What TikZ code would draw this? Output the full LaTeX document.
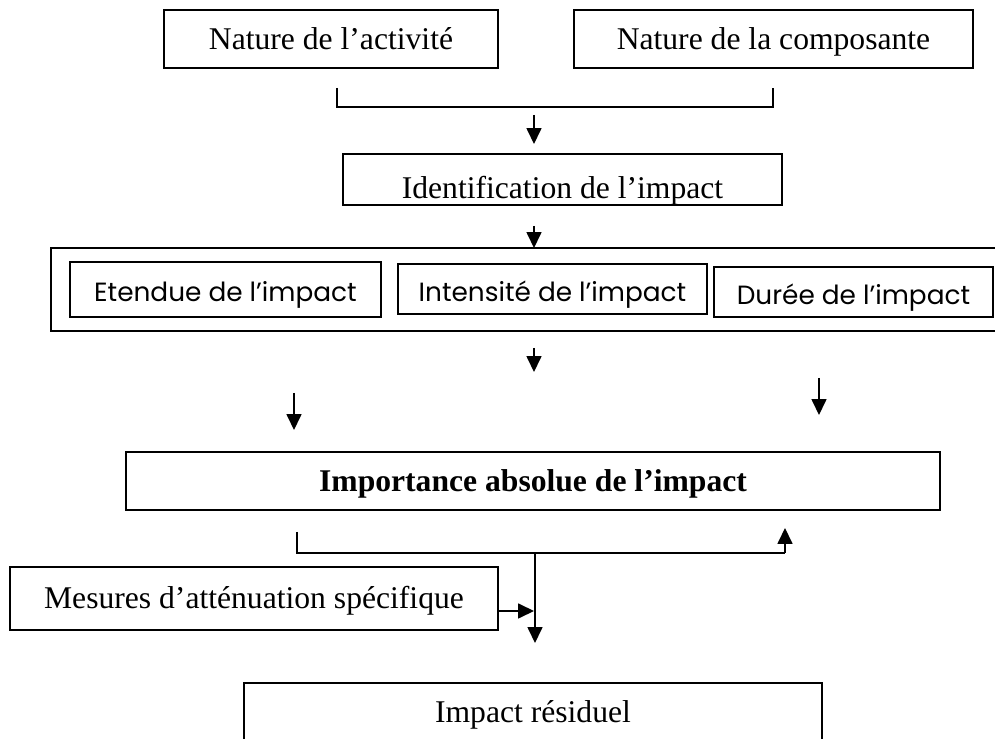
\documentclass[tikz,border=0pt]{standalone}
\usepackage{fontspec}
\setmainfont{Liberation Serif}
\newfontfamily\gothique{Poppins}
\usepackage{pgf,tikz}
\usetikzlibrary{arrows.meta, positioning}
\tikzstyle{boite} = [draw, line width=0.9pt, rectangle, inner sep=0pt, text height=13pt, text depth=1.5pt, font=\fontsize{18}{21}\selectfont]
\tikzstyle{petiteboite} = [boite, text height=15pt, text depth=1pt, font=\gothique\fontsize{15}{18}\selectfont]
\tikzstyle{fleche} = [-{Triangle[width=8.5pt,length=9pt]}, line width=0.75pt]
\tikzstyle{trait} = [line width=0.75pt]

\begin{document}
\begin{tikzpicture}[x=0.02cm, y=-0.02cm]
	\useasboundingbox (0,0) rectangle (995,739);
	\clip (0,0) rectangle (995,739);
	% premiere ligne
	\node [boite, minimum width=6.68cm, minimum height=1.16cm] (activite) at (331,39) {Nature de l’activité};
	\node [boite, minimum width=7.98cm, minimum height=1.16cm] (composante) at (773.5,39) {Nature de la composante};
	\coordinate (acc1) at (337,88);
	\coordinate (acc2) at (773,88);
	\draw [trait] (acc1) -- ++(0,19) -| (acc2);
	\coordinate (f1) at (534,115);
	\draw [fleche] (f1) -- ++(0,29);
	% identification
	\node [boite, minimum width=8.78cm, minimum height=1.02cm] (identif) at (562.5,179.5) {};
	\begin{scope}
		\clip (identif.north west) rectangle (identif.south east);
		\node [anchor=base, font=\fontsize{18}{21}\selectfont] (identif-texte) at (562.5,199) {Identification de l’impact};
	\end{scope}
	\coordinate (f2) at (534,226);
	\draw [fleche] (f2) -- ++(0,22);
	% criteres
	\node [boite, minimum width=19.18cm, minimum height=1.66cm] (cadre) at (530.5,289.5) {};
	\node [petiteboite, minimum width=6.22cm, minimum height=1.10cm] (etendue) at (225.5,289.5) {Etendue de l’impact};
	\node [petiteboite, minimum width=6.18cm, minimum height=1.00cm] (intensite) at (552.5,289) {Intensité de l’impact};
	\node [petiteboite, minimum width=5.58cm, minimum height=1.00cm] (duree) at (853.5,292) {Durée de l’impact};
	\coordinate (f3) at (534,348);
	\draw [fleche] (f3) -- ++(0,24);
	\coordinate (f4) at (294,393);
	\draw [fleche] (f4) -- ++(0,37);
	\coordinate (f5) at (819,378);
	\draw [fleche] (f5) -- ++(0,37);
	% importance
	\node [boite, minimum width=16.28cm, minimum height=1.16cm] (importance) at (533,481) {\bfseries Importance absolue de l’impact};
	\coordinate (acc3) at (297,532);
	\coordinate (acc4) at (785,528);
	\draw [trait] (acc3) -- ++(0,21) -- ++(488,0);
	\draw [fleche] (785,553) -- (acc4);
	\coordinate (jonction) at (535,553);
	\coordinate (f6) at (535,643);
	\draw [fleche] (jonction) -- (f6);
	% mesures et impact residuel
	\node [boite, minimum width=9.76cm, minimum height=1.26cm] (mesures) at (254,598.5) {Mesures d’atténuation spécifique};
	\coordinate (m1) at (534,611);
	\draw [fleche] (mesures.east |- m1) -- (m1);
	\node [boite, minimum width=11.56cm, minimum height=1.16cm] (residuel) at (533,712) {Impact résiduel};
\end{tikzpicture}
\end{document}
